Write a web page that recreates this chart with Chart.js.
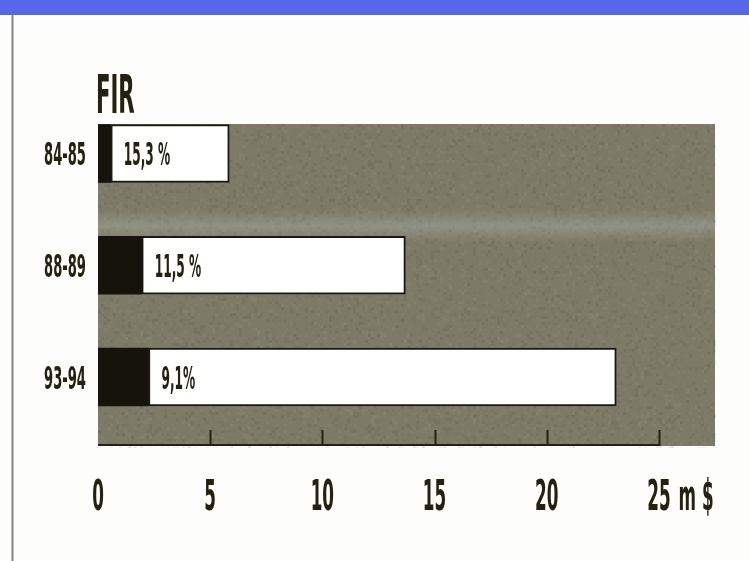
<!DOCTYPE html>
<html>
<head>
<meta charset="utf-8">
<script src="https://cdn.jsdelivr.net/npm/chart.js@4.4.0/dist/chart.umd.min.js"></script>
<style>
  html, body { margin: 0; padding: 0; background: #fdfdfb; }
  #wrap { width: 749px; height: 561px; position: relative; }
</style>
</head>
<body>
<div id="wrap"><canvas id="firChart" width="749" height="561"></canvas></div>
<script>
// FIR budget per period, in millions of dollars
const periods = ['84-85', '88-89', '93-94'];
const darkPart = [0.57, 1.95, 2.25];
const totals = [5.85, 13.7, 23.1];
const shares = ['15,3 %', '11,5 %', '9,1%'];
const xTicks = [0, 5, 10, 15, 20, 25];
const unitLabel = 'm $';
const chartTitle = 'FIR';

const ink = '#24220f';

// condensed lettering: regular font squeezed horizontally
function squeezed(ctx, text, x, midY, size, sx, align) {
    ctx.save();
    ctx.font = 'bold ' + size + 'px "DejaVu Sans"';
    const w = ctx.measureText(text).width * sx;
    let left = x;
    if (align === 'center') left = x - w / 2;
    else if (align === 'right') left = x - w;
    ctx.translate(left, midY + size * 0.729 / 2);
    ctx.scale(sx, 1);
    ctx.textAlign = 'left';
    ctx.textBaseline = 'alphabetic';
    ctx.fillStyle = ink;
    ctx.fillText(text, 0, 0);
    ctx.restore();
    return left + w;
}

// mottled grain for the grey panel (deterministic hash, no randomness)
function grain(ctx, a) {
    ctx.save();
    for (let y = a.top; y < a.bottom; y += 3) {
        for (let x = a.left; x < a.right; x += 3) {
            const h = Math.sin(x * 12.9898 + y * 78.233) * 43758.5453;
            const f = h - Math.floor(h);
            if (f > 0.8) {
                ctx.fillStyle = 'rgba(160,160,140,' + ((f - 0.8) * 0.9).toFixed(3) + ')';
                ctx.fillRect(x, y, 3, 3);
            } else if (f < 0.2) {
                ctx.fillStyle = 'rgba(60,58,40,' + ((0.2 - f) * 0.7).toFixed(3) + ')';
                ctx.fillRect(x, y, 3, 3);
            }
        }
    }
    ctx.restore();
}

const pagePlugin = {
    id: 'page',
    beforeDraw(chart) {
        const ctx = chart.ctx;
        const a = chart.chartArea;
        ctx.save();
        ctx.fillStyle = '#fdfdfb';
        ctx.fillRect(0, 0, chart.width, chart.height);
        // blue band along the top
        ctx.fillStyle = '#5468e8';
        ctx.fillRect(0, 0, chart.width, 15);
        // thin rule on the left
        ctx.strokeStyle = '#86867c';
        ctx.lineWidth = 2;
        ctx.beginPath();
        ctx.moveTo(12.5, 15);
        ctx.lineTo(12.5, chart.height);
        ctx.stroke();
        // grey plot panel
        ctx.fillStyle = '#7d7b67';
        ctx.fillRect(a.left, a.top, a.right - a.left, a.bottom - a.top);
        grain(ctx, a);
        const g = ctx.createLinearGradient(0, 210, 0, 242);
        g.addColorStop(0, 'rgba(165,172,165,0)');
        g.addColorStop(0.5, 'rgba(165,172,165,0.45)');
        g.addColorStop(1, 'rgba(165,172,165,0)');
        ctx.fillStyle = g;
        ctx.fillRect(a.left, 210, a.right - a.left, 32);
        ctx.restore();
    },
    afterDatasetsDraw(chart) {
        const ctx = chart.ctx;
        const a = chart.chartArea;
        const xs = chart.scales.x;
        const ys = chart.scales.y;
        ctx.save();
        // axis line and ticks rising into the panel
        ctx.strokeStyle = ink;
        ctx.lineWidth = 2;
        ctx.beginPath();
        ctx.moveTo(xs.getPixelForValue(xTicks[0]), a.bottom - 1);
        ctx.lineTo(xs.getPixelForValue(xTicks[xTicks.length - 1]), a.bottom - 1);
        xTicks.forEach(v => {
            if (v === 0) return;
            const px = Math.round(xs.getPixelForValue(v)) + 0.5;
            ctx.moveTo(px, a.bottom);
            ctx.lineTo(px, a.bottom - 16);
        });
        ctx.stroke();
        ctx.restore();

        // tick labels
        xTicks.forEach((v, i) => {
            const px = xs.getPixelForValue(v);
            const end = squeezed(ctx, String(v), px, 495, 42, 0.4, 'center');
            if (i === xTicks.length - 1) squeezed(ctx, unitLabel, end + 8, 495, 42, 0.4, 'left');
        });
        // period labels and shares
        periods.forEach((p, i) => {
            const py = ys.getPixelForValue(i);
            squeezed(ctx, p, 86, py, 32, 0.41, 'right');
            squeezed(ctx, shares[i], xs.getPixelForValue(darkPart[i]) + 13, py, 32, 0.38, 'left');
        });
        // title
        squeezed(ctx, chartTitle, 96, 94, 53, 0.4, 'left');
    }
};

const ctx = document.getElementById('firChart').getContext('2d');
new Chart(ctx, {
    type: 'bar',
    data: {
        datasets: [{
            data: periods.map((p, i) => ({ x: darkPart[i], y: i })),
            backgroundColor: '#16140a',
            borderWidth: 0,
            grouped: false,
            barThickness: 58
        }, {
            data: periods.map((p, i) => ({ x: [darkPart[i], totals[i]], y: i })),
            backgroundColor: '#ffffff',
            borderColor: '#1c1a10',
            borderWidth: 2,
            borderSkipped: false,
            grouped: false,
            barThickness: 58
        }]
    },
    options: {
        indexAxis: 'y',
        responsive: false,
        animation: false,
        layout: { padding: { left: 98, right: 34, top: 124, bottom: 115 } },
        scales: {
            x: { type: 'linear', min: 0, max: 27.5, offset: false, display: false },
            y: { type: 'linear', min: -0.264, max: 2.617, reverse: true, offset: false, grid: { offset: false }, display: false }
        },
        plugins: {
            legend: { display: false },
            tooltip: { enabled: false }
        }
    },
    plugins: [pagePlugin]
});
</script>
</body>
</html>
